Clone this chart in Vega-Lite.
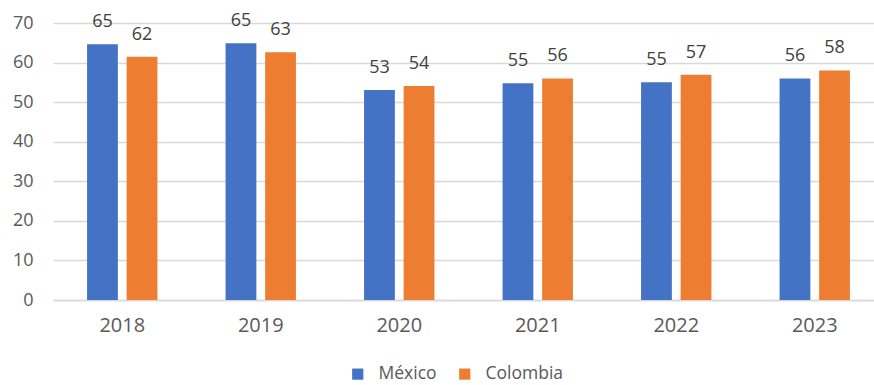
{
  "$schema": "https://vega.github.io/schema/vega-lite/v6.json",
  "autosize": {"type": "none"},
  "width": 821,
  "height": 277,
  "padding": {"left": 53, "top": 23, "right": 0, "bottom": 85},
  "background": "white",
  "config": {
    "font": "Open Sans",
    "view": {"stroke": null}
  },
  "data": {
    "values": [
      {"year": "2018", "country": "México", "value": 64.6},
      {"year": "2018", "country": "Colombia", "value": 61.5},
      {"year": "2019", "country": "México", "value": 64.9},
      {"year": "2019", "country": "Colombia", "value": 62.6},
      {"year": "2020", "country": "México", "value": 53.1},
      {"year": "2020", "country": "Colombia", "value": 54.1},
      {"year": "2021", "country": "México", "value": 54.8},
      {"year": "2021", "country": "Colombia", "value": 56.0},
      {"year": "2022", "country": "México", "value": 55.0},
      {"year": "2022", "country": "Colombia", "value": 56.9},
      {"year": "2023", "country": "México", "value": 56.0},
      {"year": "2023", "country": "Colombia", "value": 58.0}
    ]
  },
  "encoding": {
    "x": {
      "field": "year", "type": "nominal",
      "scale": {"range": [0, 831], "paddingInner": 0.492, "paddingOuter": 0.246},
      "axis": {
        "title": null, "labelAngle": 0, "ticks": false, "domain": true,
        "domainColor": "#d9d9d9", "domainWidth": 1.5,
        "labelFontSize": 20, "labelColor": "#595959", "labelPadding": 15
      }
    },
    "xOffset": {
      "field": "country", "type": "nominal",
      "sort": ["México", "Colombia"],
      "scale": {"paddingInner": 0.222, "paddingOuter": 0}
    },
    "y": {
      "field": "value", "type": "quantitative",
      "scale": {"domain": [0, 70], "nice": false},
      "axis": {
        "title": null, "values": [0, 10, 20, 30, 40, 50, 60, 70],
        "domain": false, "ticks": false,
        "gridColor": "#d9d9d9", "gridWidth": 1.5,
        "labelFontSize": 18, "labelColor": "#595959", "labelPadding": 20
      }
    }
  },
  "layer": [
    {
      "mark": {"type": "bar"},
      "encoding": {
        "color": {
          "field": "country", "type": "nominal",
          "sort": ["México", "Colombia"],
          "scale": {"domain": ["México", "Colombia"], "range": ["#4472C4", "#ED7D31"]},
          "legend": {
            "title": null, "orient": "none", "direction": "horizontal",
            "legendX": 296, "legendY": 342,
            "symbolType": "square", "symbolSize": 125, "symbolStrokeWidth": 0,
            "labelFontSize": 17.5, "labelColor": "#595959",
            "columnPadding": 19, "labelOffset": 12
          }
        }
      }
    },
    {
      "mark": {"type": "text", "baseline": "bottom", "dy": -13, "fontSize": 18, "color": "#404040"},
      "encoding": {
        "text": {"field": "value", "type": "quantitative", "format": ".0f"}
      }
    }
  ]
}
